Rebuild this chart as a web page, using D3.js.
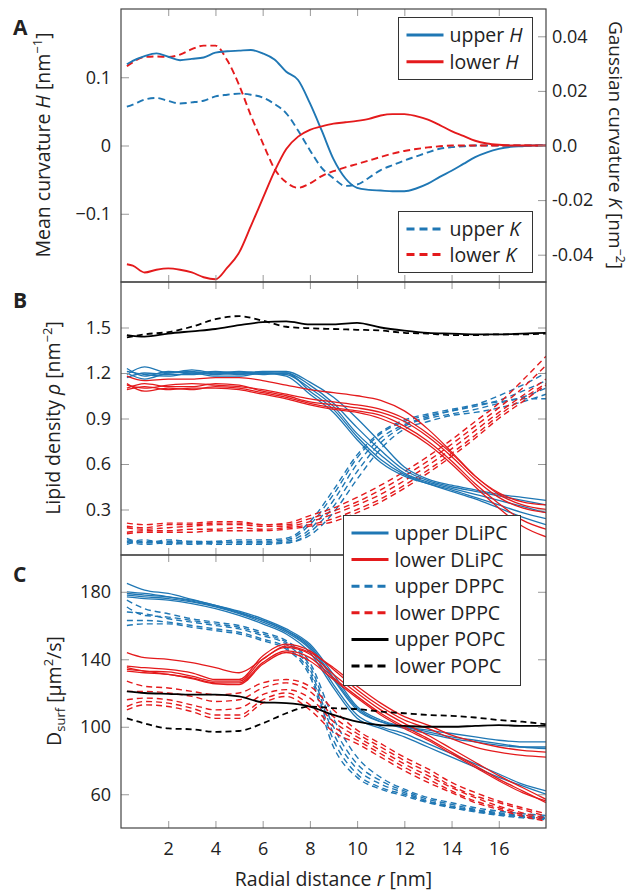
<!DOCTYPE html>
<html>
<head>
<meta charset="utf-8">
<script src="https://cdn.jsdelivr.net/npm/d3@7"></script>
<style>
body { margin: 0; background: #fff; }
svg text { font-family: "Open Sans", sans-serif; fill: #222; }
</style>
</head>
<body>
<svg id="chart" width="636" height="892"></svg>
<script>
"use strict";

// panel A: curvature profiles
var r_a = [0.25,0.5,1,1.5,2,2.5,3,3.5,4,4.5,5,5.5,6,6.5,7,7.5,8,8.5,9,9.5,10,10.5,11,11.5,12,12.5,13,13.5,14,14.5,15,15.5,16,16.5,17,17.5,18];
var upper_h = [0.119,0.124,0.131,0.135,0.13,0.125,0.127,0.129,0.136,0.138,0.139,0.14,0.135,0.126,0.108,0.096,0.062,0.022,-0.02,-0.048,-0.062,-0.065,-0.066,-0.067,-0.067,-0.063,-0.056,-0.046,-0.037,-0.027,-0.017,-0.01,-0.005,-0.002,-0.001,0,0];
var lower_h = [-0.174,-0.176,-0.186,-0.182,-0.18,-0.182,-0.186,-0.193,-0.196,-0.179,-0.157,-0.118,-0.078,-0.038,-0.005,0.013,0.023,0.028,0.032,0.034,0.036,0.039,0.044,0.046,0.046,0.043,0.038,0.03,0.021,0.014,0.007,0.003,0.001,0,0,0,0];
var upper_k = [0.0142,0.015,0.0168,0.0174,0.0163,0.0154,0.0158,0.0164,0.018,0.0186,0.019,0.0186,0.0176,0.0152,0.0118,0.0055,-0.0017,-0.0082,-0.012,-0.0148,-0.0143,-0.0118,-0.009,-0.0072,-0.0055,-0.004,-0.0025,-0.0012,-0.0006,-0.0003,0,0,0,0,0,0,0];
var lower_k = [0.029,0.0305,0.0324,0.0326,0.0324,0.0333,0.0353,0.0366,0.0366,0.0312,0.0222,0.011,0.001,-0.0085,-0.0135,-0.0155,-0.0139,-0.0112,-0.0094,-0.008,-0.0068,-0.0055,-0.0042,-0.003,-0.002,-0.0013,-0.0007,-0.0003,0,0,0,0,0,0,0,0,0];

// panels B and C share this radial grid
var r_b = [0.25,1,2,3,4,5,6,7,8,9,10,11,12,13,14,15,16,17,18];

// panel B: lipid density, one row per replicate
var upper_dlipc_rho = [
    [1.23,1.18,1.21,1.2,1.21,1.2,1.21,1.21,1.14,1.04,0.9,0.74,0.58,0.5,0.46,0.43,0.4,0.38,0.36],
    [1.19,1.24,1.2,1.22,1.2,1.21,1.2,1.2,1.12,1.0,0.84,0.69,0.56,0.49,0.45,0.42,0.39,0.36,0.33],
    [1.17,1.2,1.19,1.19,1.2,1.19,1.2,1.19,1.1,0.98,0.8,0.66,0.54,0.48,0.44,0.4,0.36,0.32,0.28],
    [1.2,1.16,1.2,1.21,1.19,1.2,1.19,1.2,1.08,0.96,0.78,0.63,0.53,0.47,0.43,0.38,0.33,0.28,0.24],
    [1.21,1.19,1.18,1.2,1.18,1.18,1.2,1.18,1.06,0.94,0.76,0.61,0.52,0.47,0.42,0.37,0.31,0.25,0.2]
];
var lower_dlipc_rho = [
    [1.18,1.15,1.16,1.16,1.17,1.17,1.15,1.12,1.09,1.07,1.05,1.02,0.95,0.83,0.68,0.52,0.41,0.35,0.33],
    [1.12,1.1,1.12,1.13,1.12,1.11,1.09,1.06,1.03,1.01,0.99,0.96,0.9,0.8,0.67,0.52,0.4,0.33,0.3],
    [1.1,1.13,1.11,1.11,1.13,1.12,1.08,1.05,1.01,0.99,0.97,0.94,0.88,0.78,0.65,0.5,0.38,0.31,0.28],
    [1.13,1.08,1.1,1.09,1.11,1.1,1.07,1.04,1.0,0.97,0.95,0.92,0.85,0.75,0.62,0.47,0.34,0.23,0.17],
    [1.09,1.11,1.09,1.1,1.1,1.09,1.06,1.03,0.99,0.96,0.94,0.9,0.83,0.73,0.6,0.45,0.31,0.19,0.12]
];
var upper_dppc_rho = [
    [0.1,0.08,0.09,0.08,0.09,0.08,0.08,0.09,0.17,0.36,0.6,0.77,0.86,0.91,0.95,0.99,1.05,1.12,1.2],
    [0.07,0.09,0.08,0.09,0.08,0.09,0.09,0.1,0.2,0.4,0.64,0.8,0.88,0.92,0.95,0.98,1.02,1.08,1.15],
    [0.09,0.07,0.08,0.07,0.08,0.08,0.08,0.08,0.15,0.32,0.55,0.74,0.85,0.9,0.93,0.96,1.0,1.04,1.1],
    [0.08,0.1,0.07,0.08,0.07,0.07,0.07,0.08,0.13,0.28,0.5,0.7,0.83,0.88,0.92,0.94,0.97,1.01,1.06],
    [0.11,0.08,0.1,0.09,0.09,0.1,0.1,0.11,0.22,0.43,0.66,0.81,0.89,0.93,0.96,0.99,1.01,1.03,1.03]
];
var lower_dppc_rho = [
    [0.21,0.2,0.21,0.21,0.22,0.22,0.2,0.21,0.26,0.31,0.38,0.46,0.55,0.65,0.76,0.88,1.0,1.15,1.31],
    [0.19,0.18,0.2,0.2,0.21,0.21,0.2,0.2,0.24,0.29,0.35,0.43,0.52,0.62,0.73,0.85,0.97,1.1,1.25],
    [0.18,0.17,0.18,0.19,0.2,0.2,0.19,0.19,0.22,0.27,0.33,0.4,0.49,0.59,0.7,0.82,0.94,1.05,1.16],
    [0.15,0.16,0.16,0.17,0.17,0.18,0.17,0.18,0.2,0.24,0.3,0.37,0.46,0.56,0.67,0.79,0.92,1.03,1.13],
    [0.14,0.15,0.15,0.15,0.16,0.16,0.16,0.17,0.19,0.22,0.28,0.35,0.44,0.54,0.65,0.77,0.9,1.01,1.12]
];
var upper_popc_rho = [1.45,1.44,1.46,1.475,1.49,1.515,1.535,1.54,1.52,1.52,1.53,1.5,1.48,1.465,1.46,1.455,1.455,1.46,1.465];
var lower_popc_rho = [1.435,1.455,1.47,1.505,1.555,1.575,1.545,1.505,1.495,1.49,1.485,1.48,1.465,1.46,1.45,1.45,1.455,1.455,1.46];

// panel C: surface diffusion, one row per replicate
var upper_dlipc_d = [
    [185,181,179,175.5,172,168,163,157,147,128,110,103,100,98,96,94,92,91,91],
    [179,178,177,175,172,168.5,164,158,149,131,112,104,100,97,94,92,90,88,87],
    [178,177,176,174,171,167,162,156,146,125,107,100,96,90,84,78,72,66,62],
    [177,176,175,173,170,166,161,155,144,123,105,99,94,88,82,76,70,65,60],
    [180,179,177,174.5,171.5,167.5,163,157,148,129,111,103,99,96,93,91,89,88,88]
];
var lower_dlipc_d = [
    [144,141,140,138,135,132,140,148,144,135,124,114,106,101,95,91,88,86,85],
    [136,135,134,132,128,128,142,149,145,134,122,112,104,99,93,88,85,83,82],
    [135,133,132.5,130,127,127,140,147,143,131,120,110,102,95,87,79,71,64,57],
    [134,133,131,129,126,126,138,145,141,129,118,108,100,93,85,77,69,62,55],
    [133,132,131,128.5,125.5,125,137,144,139,128,117,107,99,92,84,76,68,61,56]
];
var upper_dppc_d = [
    [175,170,167,164,162,160,156,151,138,105,82,70,63,58,55,52,50,48.5,47.5],
    [171,166,165,163,161,159,155,150,136,100,78,68,62,57,54,51,49,47.5,46.5],
    [168,167,164,162,160,158,154,149,134,96,75,66,61,56,53,50.5,48.5,47,46],
    [163,163,162,160,158,156,152,147,132,92,72,64,60,55.5,52.5,50,48,46.5,45.5],
    [160,161,161,159,157,155,151,146,130,88,70,63,59,55,52,49.5,47.5,46,45]
];
var lower_dppc_d = [
    [127,124,123,121,119,120,126,128,124,110,98,90,82,75,67,61,56,52,48.5],
    [121,121,120,118,115,116,123,126,121,106,96,88,80,73,65,59,55,51,47],
    [116,117,116,113,110,111,119,122,117,103,94,86,78,71,64,58,53,49,46],
    [112,115,114,111,107,107,116,120,113,100,92,84,76,69,62,56,52,48,45],
    [110,113,112,109,105,105,114,118,110,97,90,82,74,67,61,55,51,47,44]
];
var upper_popc_d = [121,120,119.5,119,119,118,114.5,114,112,107,103,101,100.5,100,100,100.5,101,100.5,100.5];
var lower_popc_d = [105,102,99,98.5,97,97.5,102,108,112,111,110.5,109,108,107,106.5,105.5,104,103,101.5];

// ticks
var x_ticks = [2,4,6,8,10,12,14,16];
var h_ticks = [-0.1, 0, 0.1];
var h_tick_labels = ['\u22120.1', '0', '0.1'];
var k_ticks = [-0.04, -0.02, 0, 0.02, 0.04];
var k_tick_labels = ['-0.04', '-0.02', '0.0', '0.02', '0.04'];
var rho_ticks = [0.3, 0.6, 0.9, 1.2, 1.5];
var rho_tick_labels = ['0.3', '0.6', '0.9', '1.2', '1.5'];
var d_ticks = [60, 100, 140, 180];
var d_tick_labels = ['60', '100', '140', '180'];

var blue = '#1f77b4';
var red = '#e41a1c';
var black = '#000';

var left = 121, right = 546;
var tops = [9, 282, 555];
var bottoms = [282, 555, 828];

var x = d3.scaleLinear().domain([0, 18]).range([left, right]);
var y_h = d3.scaleLinear().domain([-0.2, 0.2]).range([bottoms[0], tops[0]]);
var y_k = d3.scaleLinear().domain([-0.05, 0.05]).range([bottoms[0], tops[0]]);
var y_rho = d3.scaleLinear().domain([0, 1.8]).range([bottoms[1], tops[1]]);
var y_d = d3.scaleLinear().domain([40, 201.8]).range([bottoms[2], tops[2]]);

var svg = d3.select('#chart');
var defs = svg.append('defs');

tops.forEach(function( t, i ) {
    defs.append('clipPath').attr('id', 'clip-' + i)
        .append('rect')
        .attr('x', left).attr('y', t)
        .attr('width', right - left).attr('height', bottoms[i] - t);
});

function draw_series( g, xs, rows, y, color, dash, w ) {
    var line = d3.line()
        .x(function( d, i ) { return x( xs[i] ); })
        .y(function( d ) { return y( d ); })
        .curve( d3.curveMonotoneX );

    g.selectAll(null).data( rows ).enter().append('path')
        .attr('d', line)
        .attr('fill', 'none')
        .attr('stroke', color)
        .attr('stroke-width', w)
        .attr('stroke-dasharray', dash)
        .attr('stroke-linejoin', 'round');
}

function style_axis( g ) {
    g.attr('color', '#999').attr('font-size', 18);
    g.selectAll('.domain').remove();
}

function no_label() { return ''; }

function axes( i, y, ticks, labels, mirror ) {
    var g = svg.append('g');

    g.append('g').attr('transform', 'translate(0,' + bottoms[i] + ')')
        .call( d3.axisBottom( x ).tickValues( x_ticks ).tickSizeInner( -7 ).tickSizeOuter( 0 )
            .tickPadding( 14 ).tickFormat( i === 2 ? d3.format('d') : no_label ) )
        .call( style_axis );

    g.append('g').attr('transform', 'translate(0,' + tops[i] + ')')
        .call( d3.axisTop( x ).tickValues( x_ticks ).tickSizeInner( -7 ).tickSizeOuter( 0 ).tickFormat( no_label ) )
        .call( style_axis );

    g.append('g').attr('transform', 'translate(' + left + ',0)')
        .call( d3.axisLeft( y ).tickValues( ticks ).tickSizeInner( -8 ).tickSizeOuter( 0 )
            .tickPadding( 10 ).tickFormat( function( d, j ) { return labels[j]; } ) )
        .call( style_axis );

    if ( mirror ) {
        g.append('g').attr('transform', 'translate(' + right + ',0)')
            .call( d3.axisRight( y ).tickValues( ticks ).tickSizeInner( -8 ).tickSizeOuter( 0 ).tickFormat( no_label ) )
            .call( style_axis );
    }
    return g;
}

// panel A
var g_a = svg.append('g').attr('clip-path', 'url(#clip-0)');
draw_series( g_a, r_a, [upper_k], y_k, blue, '7,4', 1.9 );
draw_series( g_a, r_a, [lower_k], y_k, red, '7,4', 1.9 );
draw_series( g_a, r_a, [upper_h], y_h, blue, null, 1.9 );
draw_series( g_a, r_a, [lower_h], y_h, red, null, 1.9 );

// panel B
var g_b = svg.append('g').attr('clip-path', 'url(#clip-1)');
draw_series( g_b, r_b, upper_dppc_rho, y_rho, blue, '6,4', 1.4 );
draw_series( g_b, r_b, lower_dppc_rho, y_rho, red, '6,4', 1.4 );
draw_series( g_b, r_b, upper_dlipc_rho, y_rho, blue, null, 1.3 );
draw_series( g_b, r_b, lower_dlipc_rho, y_rho, red, null, 1.3 );
draw_series( g_b, r_b, [upper_popc_rho], y_rho, black, null, 1.8 );
draw_series( g_b, r_b, [lower_popc_rho], y_rho, black, '6,4', 1.8 );

// panel C
var g_c = svg.append('g').attr('clip-path', 'url(#clip-2)');
draw_series( g_c, r_b, upper_dppc_d, y_d, blue, '6,4', 1.4 );
draw_series( g_c, r_b, lower_dppc_d, y_d, red, '6,4', 1.4 );
draw_series( g_c, r_b, upper_dlipc_d, y_d, blue, null, 1.3 );
draw_series( g_c, r_b, lower_dlipc_d, y_d, red, null, 1.3 );
draw_series( g_c, r_b, [upper_popc_d], y_d, black, null, 1.8 );
draw_series( g_c, r_b, [lower_popc_d], y_d, black, '6,4', 1.8 );

axes( 0, y_h, h_ticks, h_tick_labels, false );
axes( 1, y_rho, rho_ticks, rho_tick_labels, true );
axes( 2, y_d, d_ticks, d_tick_labels, true );

// right axis of panel A
svg.append('g').attr('transform', 'translate(' + right + ',0)')
    .call( d3.axisRight( y_k ).tickValues( k_ticks ).tickSizeInner( -8 ).tickSizeOuter( 0 )
        .tickPadding( 6 ).tickFormat( function( d, j ) { return k_tick_labels[j]; } ) )
    .call( style_axis );

// frames
tops.forEach(function( t, i ) {
    svg.append('rect')
        .attr('x', left).attr('y', t)
        .attr('width', right - left).attr('height', bottoms[i] - t)
        .attr('fill', 'none').attr('stroke', '#444').attr('stroke-width', 1.2);
});

// legends
function legend( x0, y0, w, h, rows, row_h ) {
    var g = svg.append('g');
    g.append('rect').attr('x', x0).attr('y', y0).attr('width', w).attr('height', h)
        .attr('fill', '#fff').attr('stroke', '#333').attr('stroke-width', 1);

    rows.forEach(function( d, i ) {
        var cy = y0 + 17.5 + i * row_h;
        g.append('line')
            .attr('x1', x0 + 8).attr('x2', x0 + 45)
            .attr('y1', cy).attr('y2', cy)
            .attr('stroke', d.color).attr('stroke-width', 3)
            .attr('stroke-dasharray', d.dash);
        var t = g.append('text').attr('x', x0 + 51).attr('y', cy).attr('dy', '0.36em')
            .attr('font-size', 19.5).text( d.label );
        if ( d.sym ) {
            t.append('tspan').attr('font-style', 'italic').text( d.sym );
        }
    });
}

legend( 398.5, 17.5, 134, 62, [
    { label: 'upper ', sym: 'H', color: blue, dash: null },
    { label: 'lower ', sym: 'H', color: red, dash: null }
], 26.7 );

legend( 398.5, 211.5, 134, 61, [
    { label: 'upper ', sym: 'K', color: blue, dash: '8,5' },
    { label: 'lower ', sym: 'K', color: red, dash: '8,5' }
], 25.5 );

legend( 343.5, 515.5, 177, 170, [
    { label: 'upper DLiPC', color: blue, dash: null },
    { label: 'lower DLiPC', color: red, dash: null },
    { label: 'upper DPPC', color: blue, dash: '8,5' },
    { label: 'lower DPPC', color: red, dash: '8,5' },
    { label: 'upper POPC', color: black, dash: null },
    { label: 'lower POPC', color: black, dash: '8,5' }
], 26.6 );

// axis titles
var ta = svg.append('text').attr('transform', 'translate(50,145) rotate(-90)')
    .attr('text-anchor', 'middle').attr('font-size', 19.5);
ta.append('tspan').text('Mean curvature ');
ta.append('tspan').attr('font-style', 'italic').text('H');
ta.append('tspan').text(' [nm');
ta.append('tspan').attr('font-size', 13).attr('dy', -8).text('\u22121');
ta.append('tspan').attr('dy', 8).text(']');

var tk = svg.append('text').attr('transform', 'translate(609,145) rotate(90)')
    .attr('text-anchor', 'middle').attr('font-size', 19);
tk.append('tspan').text('Gaussian curvature ');
tk.append('tspan').attr('font-style', 'italic').text('K');
tk.append('tspan').text('  [nm');
tk.append('tspan').attr('font-size', 12.5).attr('dy', -7).text('\u22122');
tk.append('tspan').attr('dy', 7).text(']');

var tb = svg.append('text').attr('transform', 'translate(60,418) rotate(-90)')
    .attr('text-anchor', 'middle').attr('font-size', 19.5);
tb.append('tspan').text('Lipid density ');
tb.append('tspan').attr('font-style', 'italic').text('\u03c1');
tb.append('tspan').text(' [nm');
tb.append('tspan').attr('font-size', 13).attr('dy', -8).text('\u22122');
tb.append('tspan').attr('dy', 8).text(']');

var tc = svg.append('text').attr('transform', 'translate(61,691) rotate(-90)')
    .attr('text-anchor', 'middle').attr('font-size', 19.5);
tc.append('tspan').text('D');
tc.append('tspan').attr('font-size', 13).attr('dy', 4).text('surf');
tc.append('tspan').attr('dy', -4).text('  [\u03bcm');
tc.append('tspan').attr('font-size', 13).attr('dy', -8).text('2');
tc.append('tspan').attr('dy', 8).text('/s]');

var tx = svg.append('text').attr('x', (left + right) / 2).attr('y', 886)
    .attr('text-anchor', 'middle').attr('font-size', 19.5);
tx.append('tspan').text('Radial distance ');
tx.append('tspan').attr('font-style', 'italic').text('r');
tx.append('tspan').text(' [nm]');

// panel letters
[['A', 35], ['B', 308], ['C', 582]].forEach(function( d ) {
    svg.append('text').attr('x', 13).attr('y', d[1])
        .attr('font-size', 21).attr('font-weight', 'bold').text( d[0] );
});
</script>
</body>
</html>
